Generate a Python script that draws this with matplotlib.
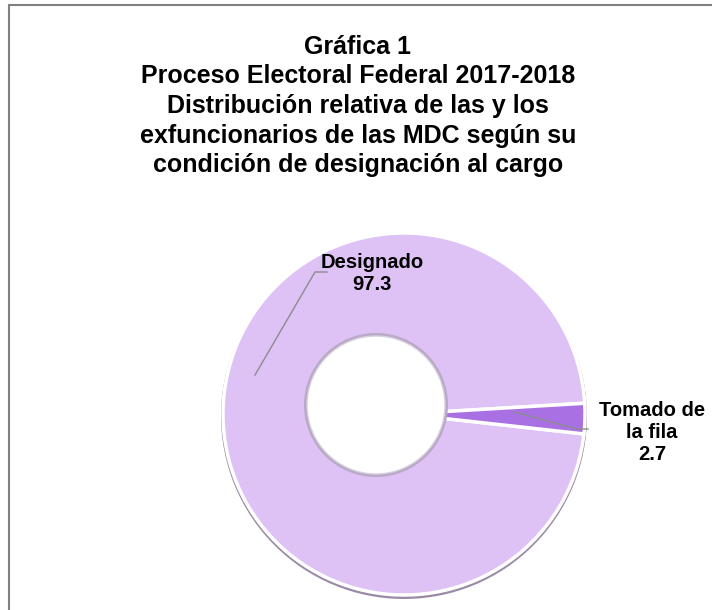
import matplotlib.pyplot as plt
from matplotlib.patches import Circle, Rectangle

# datos de la grafica
categorias = ["Designado", "Tomado de\nla fila"]
porcentajes = [97.3, 2.7]
colores = ["#dfc2f5", "#a970e3"]
titulo = ("Gráfica 1\n"
          "Proceso Electoral Federal 2017-2018\n"
          "Distribución relativa de las y los\n"
          "exfuncionarios de las MDC según su\n"
          "condición de designación al cargo")

W, H = 712, 610


def py(y):
    # pixel y (desde arriba) -> coordenada de datos
    return H - y


def main():
    fig = plt.figure(figsize=(W / 100, H / 100), dpi=100)
    ax = fig.add_axes([0, 0, 1, 1])
    ax.axis("off")

    # marco
    ax.add_patch(Rectangle((9, -20), W + 40, py(5) + 20, fill=False,
                           edgecolor="#808080", linewidth=1.5))

    # sombra del borde
    cx, cy, r = 404, py(414), 181
    ax.add_patch(Circle((cx, cy - 2), r + 2, facecolor="#9a8aa6", edgecolor="none"))

    wedges, _ = ax.pie(porcentajes, colors=colores, startangle=3.4,
                       center=(cx, cy), radius=r,
                       wedgeprops=dict(edgecolor="white", linewidth=2.5))
    ax.set_xlim(0, W)
    ax.set_ylim(0, H)
    ax.set_aspect("equal")

    # hueco desplazado (efecto 3d)
    ax.add_patch(Circle((376, py(405)), 72, facecolor="#b9a9c6", edgecolor="none"))
    ax.add_patch(Circle((376, py(405)), 69, facecolor="white", edgecolor="#d8d0de",
                        linewidth=1))

    # etiquetas
    ax.plot([255, 315, 327], [py(375), py(272), py(272)], color="#8c8c8c", lw=1)
    ax.text(372, py(274), "%s\n%.1f" % (categorias[0], porcentajes[0]),
            ha="center", va="center", fontsize=14.5, fontweight="bold",
            family="Liberation Sans", linespacing=1.2)

    ax.plot([514, 577, 588], [py(412), py(429), py(429)], color="#8c8c8c", lw=1)
    ax.text(652, py(433), "%s\n%.1f" % (categorias[1], porcentajes[1]),
            ha="center", va="center", fontsize=14.5, fontweight="bold",
            family="Liberation Sans", linespacing=1.2)

    ax.text(358, py(106), titulo, ha="center", va="center", fontsize=18,
            fontweight="bold", family="Liberation Sans", linespacing=1.3)

    fig.savefig("out.png", dpi=100)


if __name__ == "__main__":
    main()
